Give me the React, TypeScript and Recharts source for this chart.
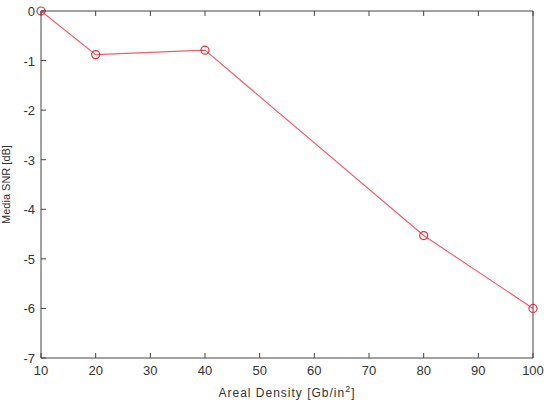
import React from 'react';
import { LineChart, Line, XAxis, YAxis, Label } from 'recharts';

const density = [10, 20, 40, 80, 100];
const snr = [0, -0.88, -0.79, -4.53, -6.0];
const xTicks = [10, 20, 30, 40, 50, 60, 70, 80, 90, 100];
const yTicks = [0, -1, -2, -3, -4, -5, -6, -7];

const data = density.map((d, i) => ({ d, v: snr[i] }));
const C = '#444';
const F = 'Arial, "Liberation Sans", sans-serif';

const BottomTick = (p: any) => (
  <g>
    <line x1={p.x} x2={p.x} y1={p.y - 6} y2={p.y - 11} stroke={C} />
    <text x={p.x} y={p.y} dy={11} textAnchor="middle" fontSize={13} fill="#333" fontFamily={F}>{p.payload.value}</text>
  </g>
);
const TopTick = (p: any) => <line x1={p.x} x2={p.x} y1={p.y + 6} y2={p.y + 11} stroke={C} />;
const LeftTick = (p: any) => (
  <g>
    <line x1={p.x + 6} x2={p.x + 11} y1={p.y} y2={p.y} stroke={C} />
    <text x={p.x} y={p.y} dy={5} textAnchor="end" fontSize={13} fill="#333" fontFamily={F}>{p.payload.value}</text>
  </g>
);
const RightTick = (p: any) => <line x1={p.x - 6} x2={p.x - 11} y1={p.y} y2={p.y} stroke={C} />;

const XLab = (p: any) => {
  const vb = p.viewBox;
  return (
    <text x={vb.x + vb.width / 2} y={397} textAnchor="middle" fontSize={12} fill="#333" fontFamily={F} letterSpacing={1}>
      Areal Density [Gb/in<tspan dy={-5} fontSize={9}>2</tspan><tspan dy={5}>]</tspan>
    </text>
  );
};

export default function App() {
  return (
    <div style={{ position: 'absolute', left: 0, top: 0, background: '#fff' }}>
      <LineChart width={550} height={405} data={data} margin={{ top: 0, right: 0, bottom: 0, left: 0 }}>
        <XAxis xAxisId="b" dataKey="d" type="number" domain={[10, 100]} ticks={xTicks} stroke={C} tickLine={false} tickSize={0} tickMargin={6} tick={<BottomTick />} height={47} interval={0}>
          <Label content={<XLab />} />
        </XAxis>
        <XAxis xAxisId="t" orientation="top" dataKey="d" type="number" domain={[10, 100]} ticks={xTicks} stroke={C} tickLine={false} tickSize={0} tickMargin={6} tick={<TopTick />} height={11} interval={0} />
        <YAxis yAxisId="l" type="number" domain={[-7, 0]} ticks={yTicks} stroke={C} tickLine={false} tickSize={0} tickMargin={6} tick={<LeftTick />} width={41} interval={0}>
          <Label angle={-90} position="insideLeft" offset={6} value="Media SNR [dB]" style={{ fontSize: 11, fill: '#333', fontFamily: F, textAnchor: 'middle' }} />
        </YAxis>
        <YAxis yAxisId="r" orientation="right" type="number" domain={[-7, 0]} ticks={yTicks} stroke={C} tickLine={false} tickSize={0} tickMargin={6} tick={<RightTick />} width={17} interval={0} />
        <Line xAxisId="b" yAxisId="l" dataKey="v" stroke="#f0606a" strokeWidth={1.2} isAnimationActive={false}
          dot={{ r: 4, stroke: '#e8303c', strokeWidth: 1.2, fill: 'none' }} />
      </LineChart>
    </div>
  );
}
